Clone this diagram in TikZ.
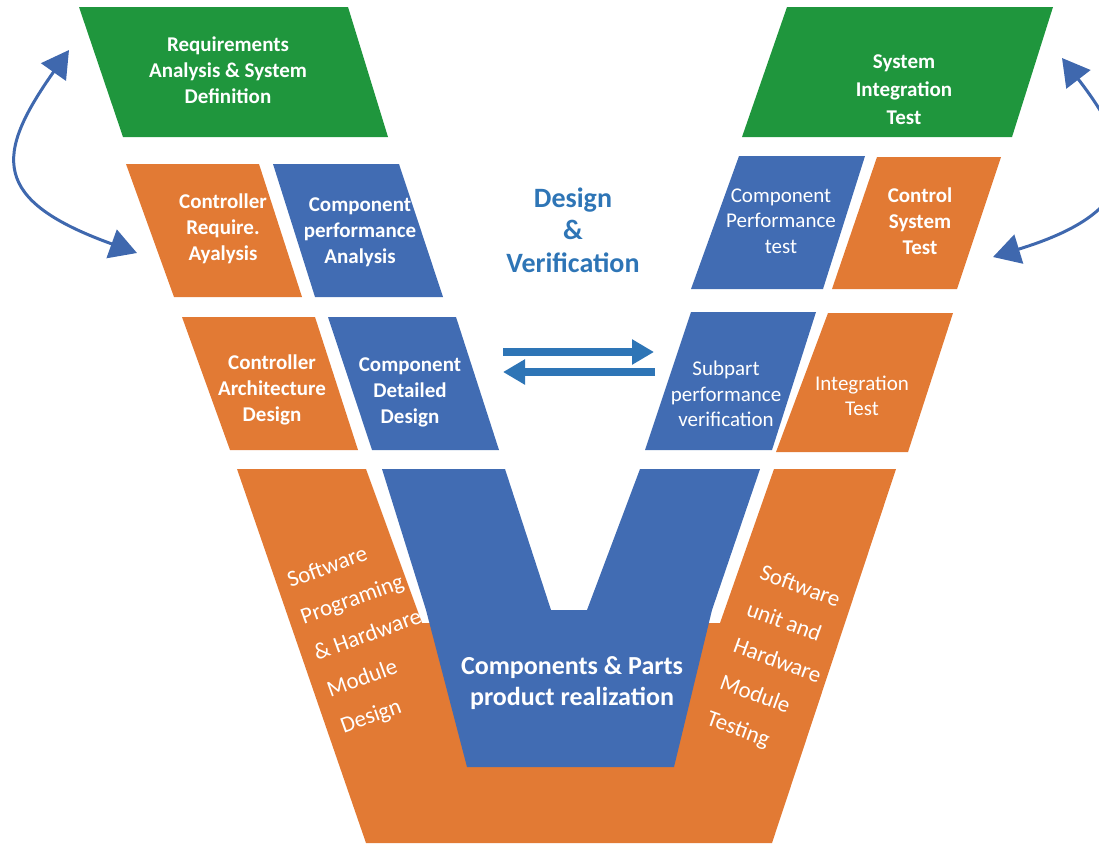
\documentclass[tikz,border=0pt]{standalone}
\usepackage{fontspec}
\setmainfont{Carlito}
\usetikzlibrary{arrows.meta}
\definecolor{vorange}{HTML}{E27A34}
\definecolor{vblue}{HTML}{416CB3}
\definecolor{vgreen}{HTML}{1F963D}
\definecolor{arrblue}{HTML}{2E75B6}
\definecolor{curveblue}{HTML}{3F68AE}
\begin{document}
\begin{tikzpicture}[x=1pt,y=-1pt,
  lbl/.style={text=white, align=center, inner sep=0pt, font=\fontsize{21}{26}\selectfont\bfseries},
  lblr/.style={text=white, align=center, inner sep=0pt, font=\fontsize{21}{25.5}\selectfont},
  rotlbl/.style={text=white, align=left, inner sep=0pt, font=\fontsize{23}{38.8}\selectfont},
  curvearrow/.style={draw=curveblue, line width=3pt, {Triangle[length=27pt,width=30pt]}-{Triangle[length=27pt,width=30pt]}},
  straightarrow/.style={draw=arrblue, line width=8pt, -{Triangle[length=22pt,width=24pt]}}
]
\useasboundingbox (0,0) rectangle (1099,846);
\begin{scope}
\clip (0,0) rectangle (1099,846);

% top row
\fill[vgreen] (79,7) -- (348,7) -- (388,137) -- (123,137) -- cycle;
\fill[vgreen] (787,7) -- (1053,7) -- (1012,137) -- (742,137) -- cycle;

% second row
\fill[vorange] (126,164) -- (259,164) -- (302,297) -- (174,297) -- cycle;
\fill[vblue] (273,164) -- (399,164) -- (443,297) -- (315,297) -- cycle;
\fill[vblue] (739,156) -- (865,156) -- (823,289) -- (691,289) -- cycle;
\fill[vorange] (877,157) -- (1001,157) -- (957,289) -- (832,289) -- cycle;

% third row
\fill[vorange] (182,317) -- (315,317) -- (358,450) -- (230,450) -- cycle;
\fill[vblue] (328,317) -- (456,317) -- (499,450) -- (372,450) -- cycle;
\fill[vblue] (691,312) -- (816,312) -- (772,450) -- (645,450) -- cycle;
\fill[vorange] (828,313) -- (953,313) -- (908,452) -- (776,452) -- cycle;

% bottom V
\fill[vorange] (237,469) -- (366,469) -- (422,623) -- (720,623) -- (774,469) -- (896,469)
   -- (772,843) -- (366,843) -- cycle;
\fill[vblue] (382,469) -- (505,469) -- (551,610) -- (587,610) -- (640,469) -- (760,469)
   -- (712,610) -- (674,767) -- (467,767) -- (426,610) -- cycle;

% labels
\node[lbl] (req) at (228,70) {Requirements\\Analysis \& System\\Definition};
\node[lbl, font=\fontsize{21}{28}\selectfont\bfseries] (sit) at (904,90) {System\\Integration\\Test};
\node[lbl] (cra) at (223,229) {Controller\\Require.\\Ayalysis};
\node[lbl] (cpa) at (360,232) {Component\\performance\\Analysis};
\node[lblr] (cpt) at (781,221) {Component\\Performance\\test};
\node[lbl] (cst) at (920,221) {Control\\System\\Test};
\node[lbl] (cad) at (272,390) {Controller\\Architecture\\Design};
\node[lbl] (cdd) at (410,392) {Component\\Detailed\\Design};
\node[lblr] (spv) at (726,394) {Subpart\\performance\\verification};
\node[lblr] (itt) at (862,396) {Integration\\Test};
\node[lbl, text=arrblue, font=\fontsize{28}{32.5}\selectfont\bfseries] (dv) at (573,230) {Design\\\&\\Verification};
\node[lbl, font=\fontsize{26}{31}\selectfont\bfseries] (cpr) at (572,683) {Components \& Parts\\product realization};
\node[rotlbl, rotate=20] (swd) at (368,636) {Software\\Programing\\\& Hardware\\Module\\Design};
\node[rotlbl, rotate=-20] (swt) at (777,662) {Software\\unit and\\Hardware\\Module\\Testing};

% middle arrows
\coordinate (ra1) at (503,352);
\coordinate (ra2) at (654,352);
\coordinate (la1) at (655,372);
\coordinate (la2) at (503,372);
\draw[straightarrow] (ra1) -- (ra2);
\draw[straightarrow] (la1) -- (la2);

% curved arrows
\coordinate (lt) at (69,50);
\coordinate (lb) at (137,253);
\draw[curvearrow] (lt) .. controls (-5,155) and (-10,200) .. (lb);
\coordinate (rt) at (1062,58);
\coordinate (rb) at (993,257);
\draw[curvearrow] (rt) .. controls (1132,149) and (1153,208) .. (rb);
\end{scope}
\end{tikzpicture}
\end{document}
